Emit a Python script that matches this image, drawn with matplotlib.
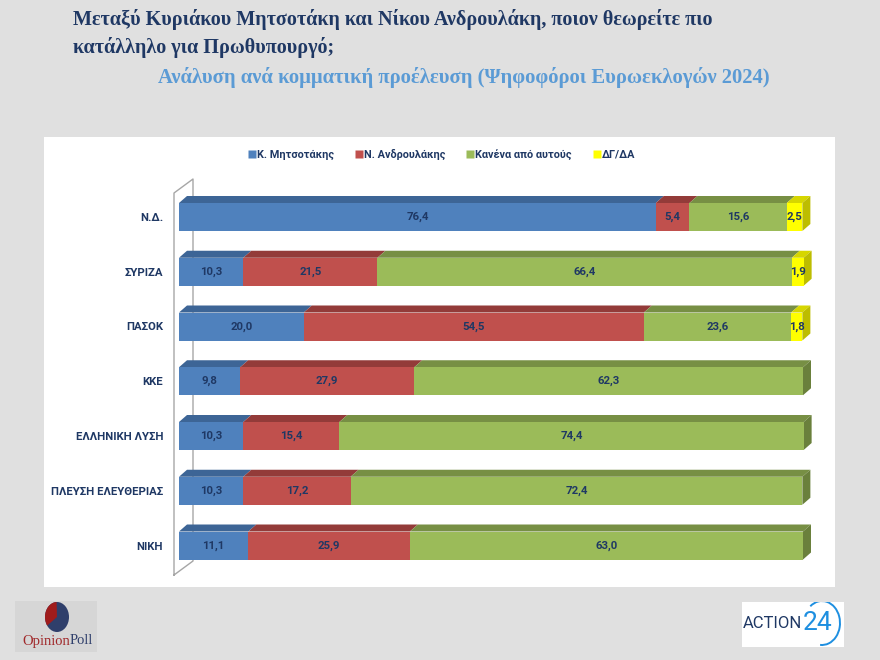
import numpy as np
import matplotlib.pyplot as plt
from matplotlib.patches import Polygon, Rectangle, Ellipse, Arc
from matplotlib.lines import Line2D

# data
parties = ['Ν.Δ.', 'ΣΥΡΙΖΑ', 'ΠΑΣΟΚ', 'ΚΚΕ', 'ΕΛΛΗΝΙΚΗ ΛΥΣΗ', 'ΠΛΕΥΣΗ ΕΛΕΥΘΕΡΙΑΣ', 'ΝΙΚΗ']
series_names = ['Κ. Μητσοτάκης', 'Ν. Ανδρουλάκης', 'Κανένα από αυτούς', 'ΔΓ/ΔΑ']
mitsotakis = [76.4, 10.3, 20.0, 9.8, 10.3, 10.3, 11.1]
androulakis = [5.4, 21.5, 54.5, 27.9, 15.4, 17.2, 25.9]
kanena = [15.6, 66.4, 23.6, 62.3, 74.4, 72.4, 63.0]
dgda = [2.5, 1.9, 1.8, 0, 0, 0, 0]

front_colors = ['#4F81BD', '#C0504D', '#9BBB59', '#FFFF00']
top_colors = ['#3D6596', '#933B39', '#778F44', '#D6D600']
side_colors = ['#365A86', '#833432', '#6A803C', '#BDBD00']
navy = '#1F3864'
sans = ['Roboto', 'DejaVu Sans']

W, H = 880, 660
fig = plt.figure(figsize=(8.8, 6.6), dpi=100)
fig.patch.set_facecolor('#E0E0E0')

def fx(px):
    return px / W

def fy(py):
    return 1 - py / H

# white chart panel
fig.patches.append(Rectangle((fx(44), fy(587)), fx(835) - fx(44), fy(137) - fy(587),
                             transform=fig.transFigure, facecolor='white', edgecolor='none', zorder=-1))

# titles
fig.text(fx(73), fy(20), 'Μεταξύ Κυριάκου Μητσοτάκη και Νίκου Ανδρουλάκη, ποιον θεωρείτε πιο',
         family='Liberation Serif', weight='bold', fontsize=14.5, color=navy, va='center')
fig.text(fx(73), fy(48), 'κατάλληλο για Πρωθυπουργό;',
         family='Liberation Serif', weight='bold', fontsize=14.5, color=navy, va='center')
fig.text(fx(158), fy(78), 'Ανάλυση ανά κομματική προέλευση (Ψηφοφόροι Ευρωεκλογών 2024)',
         family='Liberation Serif', weight='bold', fontsize=14.9, color='#5B9BD5', va='center')

# axes: x 0 at px 179, 100 at px 803; row i centred at px 217 + 54.75*i
x0px, xscale = 179, 6.24
y0px, yscale = 217, 54.75
xlim = (-2.0, 103.0)
ylim = (6.7, -0.85)
left_px = x0px + xlim[0] * xscale
right_px = x0px + xlim[1] * xscale
top_px = y0px + ylim[1] * yscale
bot_px = y0px + ylim[0] * yscale
ax = fig.add_axes([fx(left_px), fy(bot_px), fx(right_px) - fx(left_px), fy(top_px) - fy(bot_px)])
ax.set_xlim(*xlim)
ax.set_ylim(*ylim)
ax.patch.set_alpha(0)
for s in ax.spines.values():
    s.set_visible(False)
ax.set_xticks([])

y = np.arange(len(parties))
bh = 28 / yscale
dx = 8 / xscale
dy = 7 / yscale

# side wall
def wy(py):
    return (py - y0px) / yscale
wall_x0 = (174 - x0px) / xscale
wall_x1 = (193 - x0px) / xscale
wall = np.array([[wall_x0, wy(575)], [wall_x0, wy(193)], [wall_x1, wy(179)],
                 [wall_x1, wy(561)], [wall_x0, wy(575)]])
ax.plot(wall[:, 0], wall[:, 1], color='#A6A6A6', lw=1.0, zorder=1, clip_on=False)

data = [mitsotakis, androulakis, kanena, dgda]
left = np.zeros(len(parties))
for k, vals in enumerate(data):
    vals = np.array(vals)
    ax.barh(y, vals, left=left, height=bh, color=front_colors[k], edgecolor='none', zorder=3)
    for i in range(len(parties)):
        v = vals[i]
        if v <= 0:
            continue
        l = left[i]
        r = l + v
        top = y[i] - bh / 2
        ax.add_patch(Polygon([[l, top], [r, top], [r + dx, top - dy], [l + dx, top - dy]],
                             closed=True, facecolor=top_colors[k], edgecolor='none', zorder=2))
        ax.text(l + v / 2, y[i], f'{v:.1f}'.replace('.', ','), ha='center', va='center',
                fontsize=8.2, weight='bold', color=navy, family=sans, zorder=5)
    left = left + vals

# right side face of each bar
for i in range(len(parties)):
    k = max(j for j in range(4) if data[j][i] > 0)
    r = left[i]
    top = y[i] - bh / 2
    bot = y[i] + bh / 2
    ax.add_patch(Polygon([[r, top], [r + dx, top - dy], [r + dx, bot - dy], [r, bot]],
                         closed=True, facecolor=side_colors[k], edgecolor='none', zorder=2))

ax.set_yticks(y)
ax.set_yticklabels(parties, fontsize=8.2, weight='bold', color=navy, family=sans)
ax.tick_params(axis='y', length=0, pad=2.5)

# legend
handles = [Line2D([0], [0], marker='s', linestyle='none', markersize=5.5,
                  markerfacecolor=c, markeredgecolor='none') for c in front_colors]
leg = fig.legend(handles, series_names, loc='center', bbox_to_anchor=(fx(442), fy(154)),
                 ncol=4, frameon=False, handletextpad=0.15, columnspacing=2.0,
                 handlelength=0.6, prop={'family': sans, 'weight': 'bold', 'size': 7.8})
for t in leg.get_texts():
    t.set_color(navy)

# OpinionPoll logo
lax = fig.add_axes([fx(15), fy(652), fx(97) - fx(15), fy(601) - fy(652)])
lax.set_xlim(15, 97)
lax.set_ylim(652, 601)
lax.set_xticks([])
lax.set_yticks([])
for s in lax.spines.values():
    s.set_visible(False)
lax.set_facecolor('#D6D6D6')
lax.add_patch(Ellipse((57, 617), 24, 30, facecolor='#2F3F6B', edgecolor='none'))
theta = np.radians(np.linspace(92, 215, 40))
pts = np.column_stack([57 + 12 * np.cos(theta), 617 - 15 * np.sin(theta)])
lax.add_patch(Polygon(np.vstack([[57, 617], pts]), closed=True, facecolor='#A01C1C', edgecolor='none'))
lax.text(70, 641, 'Opinion', ha='right', va='center', family='Liberation Serif', fontsize=10.5, color='#A0282A')
lax.text(70, 641, 'Poll', ha='left', va='center', family='Liberation Serif', fontsize=10.5, color='#2F3F6B')

# ACTION24 logo
aax = fig.add_axes([fx(742), fy(647), fx(844) - fx(742), fy(602) - fy(647)])
aax.set_xlim(742, 844)
aax.set_ylim(647, 602)
aax.set_xticks([])
aax.set_yticks([])
for s in aax.spines.values():
    s.set_visible(False)
aax.set_facecolor('white')
aax.text(772, 624, 'ACTION', ha='center', va='center', family='Roboto', fontsize=12,
         color='#1F3864')
aax.text(818, 623, '24', ha='center', va='center', family='Roboto', fontsize=19, color='#1E8FE0')
aax.add_patch(Arc((822, 623), 36, 44, theta1=-125, theta2=95, color='#1E8FE0', lw=1.4))

fig.savefig('out.png', dpi=100, facecolor=fig.get_facecolor())
